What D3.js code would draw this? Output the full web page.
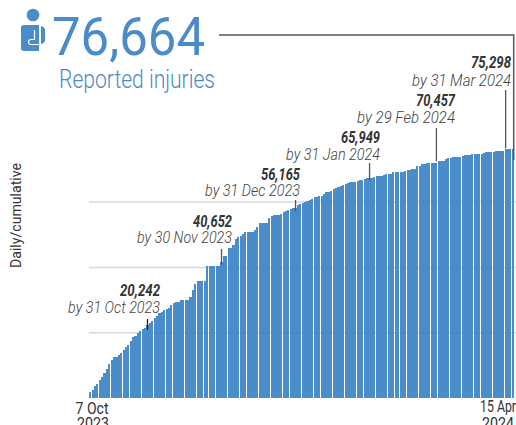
<!DOCTYPE html>
<html><head><meta charset="utf-8">
<script src="https://cdn.jsdelivr.net/npm/d3@7"></script>
<style>html,body{margin:0;padding:0;background:#fff;overflow:hidden}svg{display:block;font-family:Roboto,sans-serif}</style>
</head><body><div id="c"></div>
<script>
const cumulative = [1836,2448,3672,4284,5508,6426,7650,8874,10404,11628,12546,12546,13158,13770,14688,15606,16218,17442,18666,18972,19890,20502,21114,21420,22338,22950,23562,24480,25092,26010,26316,26928,27234,27540,28458,29070,29376,29376,29988,29988,29988,29988,30906,33048,34884,35802,35802,35802,35802,40392,40392,40392,40392,40392,40392,41616,43452,43452,45900,45900,46818,48654,49266,49572,50184,50796,50796,50796,50796,51408,52326,53550,53550,53550,53550,55080,55692,55998,55998,55998,56304,56916,57222,57528,57834,58140,58140,59058,59364,59670,59976,60282,60588,60894,61506,61506,61812,61812,62424,63036,63036,63342,63954,64260,64566,64872,65178,65484,65790,66096,66096,66096,66402,66708,66708,67014,67320,67320,67320,67626,67932,67932,67932,68238,68544,68544,68544,69156,69156,69156,69156,69156,69462,69768,69768,70074,70074,70992,70992,71604,71604,71910,71910,71910,71910,71910,72522,72522,72522,73134,73440,73440,73746,73746,73746,73746,74052,74358,74358,74358,74664,74664,74664,74664,74664,74970,75276,75276,75276,75276,75582,75582,75582,75582,76194,76194,76194,76194];
const gridValues = [20000,40000,60000];
const annotationValues = ["20,242","40,652","56,165","65,949","70,457","75,298"];
const annotationDates = ["by 31 Oct 2023","by 30 Nov 2023","by 31 Dec 2023","by 31 Jan 2024","by 29 Feb 2024","by 31 Mar 2024"];
const annotationIndex = [24,55,86,117,145,174];
const totalLabel = "76,664";
const subtitle = "Reported injuries";
const yTitle = "Daily/cumulative";
const startLabel = ["7 Oct","2023"];
const endLabel = ["15 Apr","2024"];

const W=516,H=425,BLUE="#4a8bca";
const svg=d3.select("#c").append("svg").attr("width",W).attr("height",H);
const x=d3.scaleBand().domain(d3.range(cumulative.length)).range([89,514]).paddingInner(0.1).paddingOuter(0.05);
const y=d3.scaleLinear().domain([0,80000]).range([398,136.8]);

svg.append("g").selectAll("line").data(gridValues).join("line")
  .attr("x1",89).attr("x2",516).attr("y1",d=>y(d)).attr("y2",d=>y(d))
  .attr("stroke","#d9d9d9").attr("stroke-width",1.5);

svg.append("g").attr("shape-rendering","crispEdges").selectAll("rect").data(cumulative).join("rect")
  .attr("x",(d,i)=>x(i)).attr("width",x.bandwidth())
  .attr("y",d=>y(d)).attr("height",d=>y(0)-y(d)).attr("fill",BLUE);

svg.append("path").attr("d",`M219,35H513.7V${y(cumulative[cumulative.length-1])+11}`)
  .attr("fill","none").attr("stroke","#555").attr("stroke-width",1.5);

const endX=[160,232,300,380,455,511], numY=[296,227,180,143,106,68], dateY=[313,243,196,160,123,86], tickTop=[319,249,200,163,128,90], tickBottomOff=[5,3,3,2,-2,-1];
const numW=[40,39,39,39,39,40], dateW=[92,95,95,94,98,99];
const ann=svg.append("g");
annotationIndex.forEach((idx,k)=>{
  const cx=x(idx)+x.bandwidth()/2;
  ann.append("line").attr("x1",cx).attr("x2",cx).attr("y1",tickTop[k]).attr("y2",y(cumulative[idx])+tickBottomOff[k])
    .attr("stroke",k==0?"#222":"#555").attr("stroke-width",1.3);
  ann.append("text").attr("x",endX[k]).attr("y",numY[k]).attr("text-anchor","end")
    .attr("font-size",17).attr("font-weight",700).attr("font-style","italic").attr("fill","#333")
    .attr("textLength",numW[k]).attr("lengthAdjust","spacingAndGlyphs").text(annotationValues[k]);
  ann.append("text").attr("x",endX[k]).attr("y",dateY[k]).attr("text-anchor","end")
    .attr("font-size",16.5).attr("font-weight",300).attr("font-style","italic").attr("fill","#444")
    .attr("textLength",dateW[k]).attr("lengthAdjust","spacingAndGlyphs").text(annotationDates[k]);
});

svg.append("text").attr("x",52).attr("y",55).attr("font-size",54).attr("fill",BLUE)
  .attr("textLength",153).attr("lengthAdjust","spacingAndGlyphs").text(totalLabel);
svg.append("text").attr("x",59).attr("y",88).attr("font-size",26).attr("font-weight",300).attr("fill",BLUE)
  .attr("textLength",156).attr("lengthAdjust","spacingAndGlyphs").text(subtitle);

const ic=svg.append("g").attr("fill",BLUE);
ic.append("circle").attr("cx",33).attr("cy",15).attr("r",6.3);
ic.append("path").attr("d","M24,25H39V51H24Q21,51 21,48V28Q21,25 24,25Z");
ic.append("path").attr("d","M41,26Q45,27 45,30V40Q45,43 41,44Z");
ic.append("path").attr("d","M34.5,30V39.5H31Q28.5,39.5 28.5,42Q28.5,44.5 31,44.5H39").attr("fill","none").attr("stroke","#fff").attr("stroke-width",1.2);

const lab=(t,px,py,anchor,w)=>svg.append("text").attr("x",px).attr("y",py).attr("text-anchor",anchor).attr("font-size",17).attr("fill","#333").attr("textLength",w).attr("lengthAdjust","spacingAndGlyphs").text(t);
lab(startLabel[0],92,414,"middle",33); lab(startLabel[1],93,429,"middle",32);
lab(endLabel[0],516,412,"end",36); lab(endLabel[1],498,429,"middle",32);
svg.append("text").attr("transform","translate(21,268) rotate(-90)").attr("font-size",14).attr("fill","#333")
  .attr("textLength",105).attr("lengthAdjust","spacingAndGlyphs").text(yTitle);
</script></body></html>
